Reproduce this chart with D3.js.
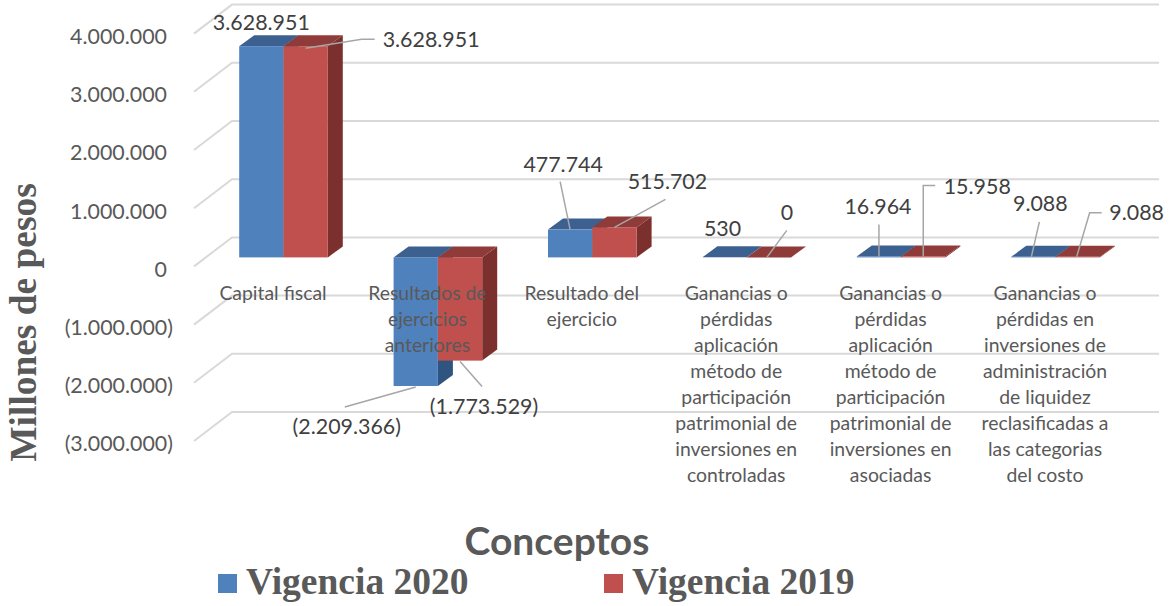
<!DOCTYPE html>
<html>
<head>
<meta charset="utf-8">
<script src="https://cdn.jsdelivr.net/npm/d3@7"></script>
<style>
  html, body { margin: 0; background: #fff; }
  text { font-family: Lato, sans-serif; }
</style>
</head>
<body>
<svg id="chart" width="1173" height="606"></svg>
<script>
const categories = [
  "Capital fiscal",
  "Resultados de ejercicios anteriores",
  "Resultado del ejercicio",
  "Ganancias o pérdidas aplicación método de participación patrimonial de inversiones en controladas",
  "Ganancias o pérdidas aplicación método de participación patrimonial de inversiones en asociadas",
  "Ganancias o pérdidas en inversiones de administración de liquidez reclasificadas a las categorias del costo"
]
// wrapped the way the original chart wraps them
const categoryLines = [
  ["Capital fiscal"],
  ["Resultados de", "ejercicios", "anteriores"],
  ["Resultado del", "ejercicio"],
  ["Ganancias o", "pérdidas", "aplicación", "método de", "participación", "patrimonial de", "inversiones en", "controladas"],
  ["Ganancias o", "pérdidas", "aplicación", "método de", "participación", "patrimonial de", "inversiones en", "asociadas"],
  ["Ganancias o", "pérdidas en", "inversiones de", "administración", "de liquidez", "reclasificadas a", "las categorias", "del costo"]
]
const seriesNames = ["Vigencia 2020", "Vigencia 2019"]
const vigencia2020 = [3628951, -2209366, 477744, 530, 16964, 9088]
const vigencia2019 = [3628951, -1773529, 515702, 0, 15958, 9088]
const tickValues = [4000000, 3000000, 2000000, 1000000, 0, -1000000, -2000000, -3000000]

// colours: front, top, side of each series
const COLORS = [
  { front: "#4f81bd", top: "#3c6190", side: "#2f5480" },
  { front: "#c0504d", top: "#8f3b39", side: "#7c302e" }
]

// label placement relative to the bar's front centre (value edge):
// label offset dx,dy, then the leader line points
const labelLayout = [
  [{ dx: 0, dy: -24, line: [] }, { dx: 77, dy: -7, anchor: "start", line: [[0, 2], [56, -7], [69, -7]] }],
  [{ dx: -69, dy: 41, line: [[0, 1], [-71, 21]] }, { dx: 24, dy: 46, line: [[0, 1], [22, 26]] }],
  [{ dx: -7, dy: -65, line: [[0, 0], [-10, -48]] }, { dx: 53, dy: -46, line: [[0, 0], [51, -28]] }],
  [{ dx: -2, dy: -29, line: [] }, { dx: 18, dy: -45, line: [[-2, 0], [18, -27]] }],
  [{ dx: -1, dy: -50, line: [[0, 0], [0, -32]] }, { dx: 54, dy: -70, line: [[0, 0], [0, -71], [12, -71]] }],
  [{ dx: 7, dy: -53, line: [[-2, 0], [6, -35]] }, { dx: 59, dy: -44, line: [[-1, 0], [12, -44], [24, -44]] }]
]

const GRID = "#d9d9d9"
const TEXT = "#595959"
const LABEL = "#404040"
const LEADER = "#a6a6a6"

// oblique offsets of the 3D box
const FLOOR_DX = -38, FLOOR_DY = 29   // wall -> front edge of the floor
const BAR_FRONT_DY = 20               // wall -> bar front face
const BAR_DX = 15, BAR_DY = -11       // bar front -> bar back
const BAR_W = 44.3

function main() {
  var svg = d3.select("#chart")

  var y = d3.scaleLinear().domain([-3000000, 4000000]).range([412, 4.6])
  var x = d3.scaleBand().domain(d3.range(categories.length)).range([206.3, 1132.7])
  var series = [vigencia2020, vigencia2019]
  var xInner = d3.scaleBand().domain([0, 1]).range([-BAR_W, BAR_W])
  var center = i => x(i) + x.bandwidth() / 2

  var locale = d3.formatLocale({ decimal: ",", thousands: ".", grouping: [3], currency: ["$", ""] })
  var fmt = locale.format(",d")
  var label = v => v < 0 ? "(" + fmt(-v) + ")" : fmt(v)

  // gridlines on the back wall and the floor diagonals
  var grid = svg.append("g")
  grid.selectAll("path").data(tickValues).join("path")
    .attr("d", v => `M${232 + FLOOR_DX},${y(v) + FLOOR_DY}L232,${y(v)}L1159,${y(v)}`)
    .attr("fill", "none")
    .attr("stroke", GRID)
    .attr("stroke-width", 2)

  // y axis, sits on the front edge of the floor
  var axis = d3.axisLeft(y).tickValues(tickValues).tickFormat(label).tickSize(0).tickPadding(0)
  var axisG = svg.append("g")
    .attr("transform", `translate(167,${FLOOR_DY + 3})`)
    .call(axis)
  axisG.select(".domain").remove()
  axisG.selectAll("text")
    .attr("x", v => v < 0 ? 6 : 0) // the closing bracket hangs past the digits
    .attr("fill", TEXT)
    .style("font-family", "Lato, sans-serif")
    .style("font-size", "21.4px")

  // blue then red so red covers blue's side
  series.forEach(function (values, s) {
    var g = svg.append("g")
    var c = COLORS[s]
    values.forEach(function (v, i) {
      var x0 = center(i) + xInner(s), x1 = x0 + BAR_W
      var yv = y(v) + BAR_FRONT_DY, y0 = y(0) + BAR_FRONT_DY
      var t = Math.min(yv, y0), b = Math.max(yv, y0)
      g.append("path") // side
        .attr("d", `M${x1},${t}L${x1 + BAR_DX},${t + BAR_DY}L${x1 + BAR_DX},${b + BAR_DY}L${x1},${b}Z`)
        .attr("fill", c.side)
      g.append("path") // top
        .attr("d", `M${x0},${t}L${x0 + BAR_DX},${t + BAR_DY}L${x1 + BAR_DX},${t + BAR_DY}L${x1},${t}Z`)
        .attr("fill", c.top)
      g.append("rect") // front
        .attr("x", x0).attr("y", t)
        .attr("width", BAR_W).attr("height", b - t)
        .attr("fill", c.front)
    })
  })

  // category labels go over the bars
  var cats = svg.append("g")
  categoryLines.forEach(function (lines, i) {
    cats.selectAll(null).data(lines).join("text")
      .attr("x", center(i) - 10.5)
      .attr("y", (d, k) => 300 + k * 26)
      .attr("text-anchor", "middle")
      .attr("fill", TEXT)
      .style("font-size", "19.4px")
      .text(d => d)
  })

  // data labels with leader lines
  var labels = svg.append("g")
  series.forEach(function (values, s) {
    values.forEach(function (v, i) {
      var lay = labelLayout[i][s]
      var ax = center(i) + xInner(s) + BAR_W / 2
      var ay = y(v) + BAR_FRONT_DY
      if (lay.line.length) {
        labels.append("path")
          .attr("d", d3.line()(lay.line.map(p => [ax + p[0], ay + p[1]])))
          .attr("fill", "none")
          .attr("stroke", LEADER)
          .attr("stroke-width", 1.5)
      }
      labels.append("text")
        .attr("x", ax + lay.dx)
        .attr("y", ay + lay.dy)
        .attr("dy", "0.35em")
        .attr("text-anchor", lay.anchor || "middle")
        .attr("fill", LABEL)
        .style("font-size", "21.4px")
        .text(label(v))
    })
  })

  // titles
  svg.append("text")
    .attr("transform", "translate(36,322.5) rotate(-90)")
    .attr("text-anchor", "middle")
    .attr("fill", TEXT)
    .style("font-family", "'Liberation Serif', serif")
    .style("font-weight", "bold")
    .style("font-size", "37.4px")
    .text("Millones de pesos")

  svg.append("text")
    .attr("x", 557).attr("y", 555)
    .attr("text-anchor", "middle")
    .attr("fill", TEXT)
    .style("font-weight", "bold")
    .style("font-size", "39px")
    .text("Conceptos")

  // legend
  var legendX = d3.scaleOrdinal().domain(seriesNames).range([218, 604])
  var legend = svg.append("g").selectAll("g").data(seriesNames).join("g")
    .attr("transform", d => `translate(${legendX(d)},574)`)
  legend.append("rect")
    .attr("width", 19).attr("height", 19)
    .attr("fill", (d, i) => COLORS[i].front)
  legend.append("text")
    .attr("x", 28).attr("y", 20)
    .attr("fill", TEXT)
    .style("font-family", "'Liberation Serif', serif")
    .style("font-weight", "bold")
    .style("font-size", "37.5px")
    .text(d => d)
}

main()
</script>
</body>
</html>
